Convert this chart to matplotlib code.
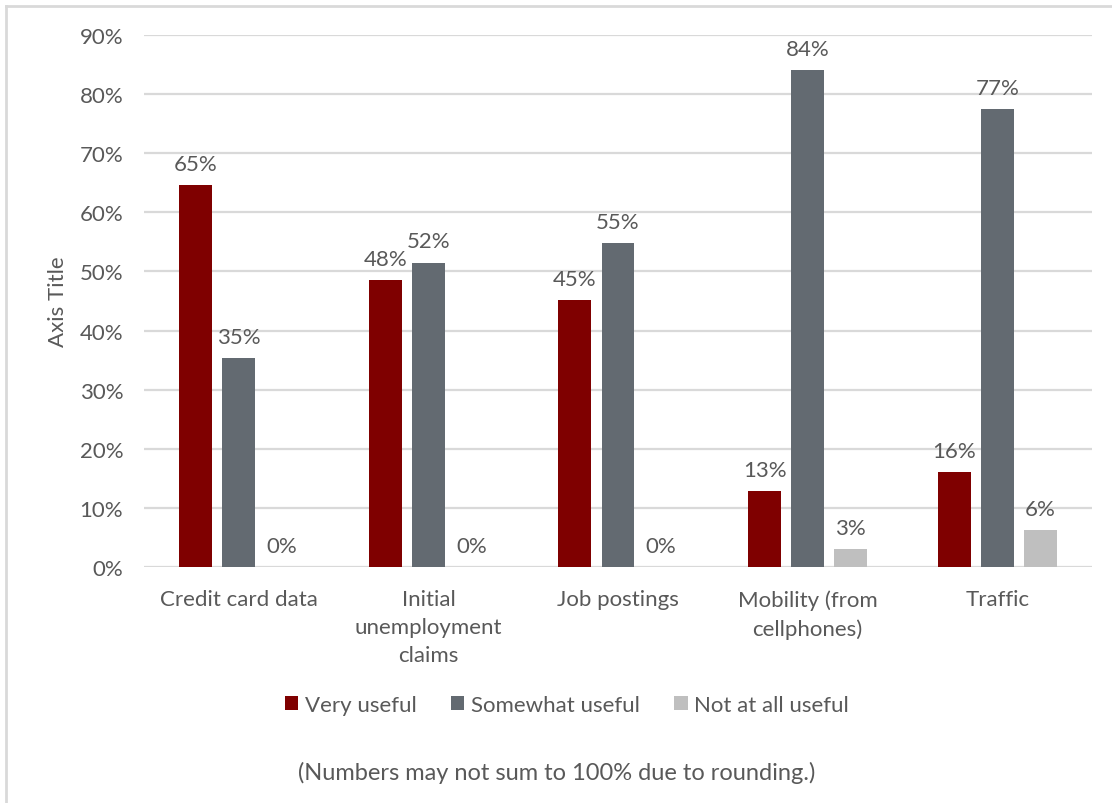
import matplotlib
matplotlib.use("Agg")
import matplotlib.pyplot as plt
from matplotlib.lines import Line2D
from matplotlib.ticker import PercentFormatter
import numpy as np

plt.rcParams['font.family'] = ['Lato', 'DejaVu Sans']

categories = ["Credit card data", "Initial\nunemployment\nclaims", "Job postings",
              "Mobility (from\ncellphones)", "Traffic"]
series_names = ["Very useful", "Somewhat useful", "Not at all useful"]
very_useful = [0.646, 0.485, 0.452, 0.128, 0.161]
somewhat_useful = [0.354, 0.515, 0.548, 0.840, 0.774]
not_useful = [0.0, 0.0, 0.0, 0.031, 0.063]
colors = ["#7f0000", "#636a71", "#bfbfbf"]
y_ticks = [0, 0.1, 0.2, 0.3, 0.4, 0.5, 0.6, 0.7, 0.8, 0.9]

text_color = "#595959"
fs = 16
W, H = 1112, 804
fig = plt.figure(figsize=(W / 100, H / 100), dpi=100)
ax = fig.add_axes([144 / W, (H - 568) / H, (1092 - 144) / W, (568 - 36) / H])

x = np.arange(len(categories))
bar_w = 0.174
pitch = 0.227
for i, (vals, name, col) in enumerate(zip([very_useful, somewhat_useful, not_useful],
                                          series_names, colors)):
    pos = x + (i - 1) * pitch
    bars = ax.bar(pos, vals, width=bar_w, color=col, label=name, zorder=3)
    for b, v in zip(bars, vals):
        ax.annotate(f"{v:.0%}", (b.get_x() + b.get_width() / 2, v),
                    xytext=(0, 8), textcoords="offset points",
                    ha="center", va="bottom", fontsize=fs, color=text_color)

ax.set_xlim(-0.5, len(categories) - 0.5)
ax.set_ylim(0, 0.9)
ax.set_yticks(y_ticks)
ax.yaxis.set_major_formatter(PercentFormatter(1.0, decimals=0))
ax.grid(axis="y", color="#d9d9d9", linewidth=1.6, zorder=0)
ax.set_axisbelow(True)
for s in ax.spines.values():
    s.set_visible(False)
ax.tick_params(axis="both", length=0, labelsize=fs, colors=text_color)
ax.tick_params(axis="y", pad=15)
ax.tick_params(axis="x", pad=16)
ax.set_xticks(x)
ax.set_xticklabels(categories, linespacing=1.5)

# y-axis title
fig.text(58 / W, (H - 302) / H, "Axis Title", rotation=90, ha="center", va="center",
         fontsize=fs, color=text_color)

fig.legend(loc="center", bbox_to_anchor=(567 / W, (H - 706) / H), ncol=3,
           frameon=False, fontsize=fs, labelcolor=text_color,
           handlelength=0.6, handleheight=0.6, handletextpad=0.3,
           columnspacing=1.55)

fig.text(557 / W, (H - 773) / H, "(Numbers may not sum to 100% due to rounding.)",
         ha="center", va="center", fontsize=17, color=text_color)

# chart frame (left and top edges)
fig.add_artist(Line2D([6 / W, 6 / W], [0, (H - 7) / H], transform=fig.transFigure,
                      color="#d9d9d9", linewidth=2))
fig.add_artist(Line2D([6 / W, 1], [(H - 7) / H, (H - 7) / H], transform=fig.transFigure,
                      color="#d9d9d9", linewidth=2))

fig.savefig("out.png", dpi=100)
